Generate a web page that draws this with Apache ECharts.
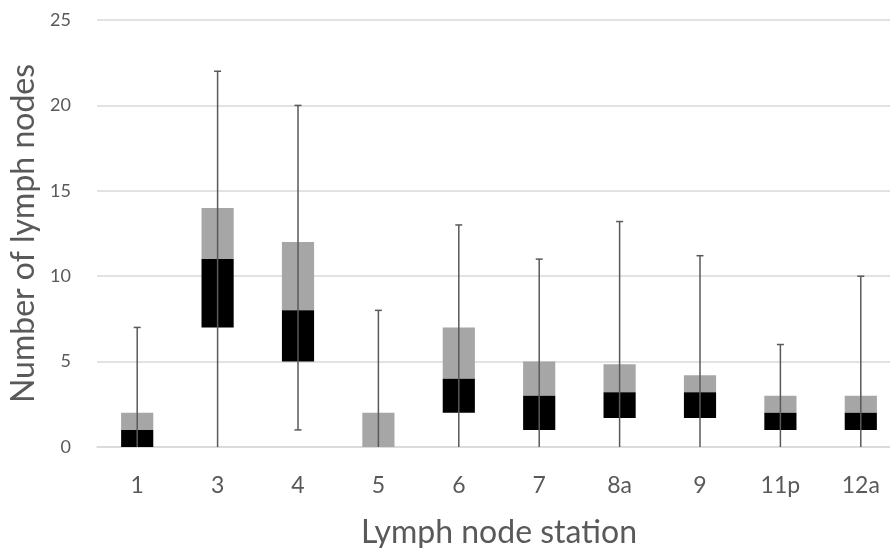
<!DOCTYPE html>
<html>
<head>
<meta charset="utf-8">
<script src="https://cdn.jsdelivr.net/npm/echarts@6/dist/echarts.min.js"></script>
<style>html,body{margin:0;padding:0;background:#fff;}#chart{width:890px;height:548px;}</style>
</head>
<body>
<div id="chart"></div>
<script>
const categories = ['1', '3', '4', '5', '6', '7', '8a', '9', '11p', '12a'];
const minVals    = [0, 0, 1, 0, 0, 0, 0, 0, 0, 0];
const q1Vals     = [0, 7, 5, 0, 2, 1, 1.7, 1.7, 1, 1];
const medianVals = [1, 11, 8, 0, 4, 3, 3.2, 3.2, 2, 2];
const q3Vals     = [2, 14, 12, 2, 7, 5, 4.85, 4.2, 3, 3];
const maxVals    = [7, 22, 20, 8, 13, 11, 13.2, 11.2, 6, 10];
const yTicks = [0, 5, 10, 15, 20, 25];

const data = categories.map((c, i) => [i, minVals[i], q1Vals[i], medianVals[i], q3Vals[i], maxVals[i]]);

const chart = echarts.init(document.getElementById('chart'));
const FONT = 'Lato';
chart.setOption({
  animation: false,
  backgroundColor: '#ffffff',
  grid: { left: 97, right: -11, top: 20, bottom: 101, containLabel: false, outerBoundsMode: 'none' },
  xAxis: {
    type: 'category',
    data: categories,
    name: 'Lymph node station',
    nameLocation: 'middle',
    nameGap: 70,
    nameTextStyle: { fontFamily: FONT, fontSize: 32, color: '#595959' },
    axisLine: { lineStyle: { color: '#D9D9D9', width: 1.5 } },
    axisTick: { show: false },
    axisLabel: { fontFamily: FONT, fontSize: 23, color: '#595959', margin: 27 },
    splitLine: { show: false }
  },
  yAxis: {
    type: 'value',
    min: yTicks[0],
    max: yTicks[yTicks.length - 1],
    interval: 5,
    name: 'Number of lymph nodes',
    nameLocation: 'middle',
    nameGap: 50,
    nameTextStyle: { fontFamily: FONT, fontSize: 32, color: '#595959' },
    axisLine: { show: false },
    axisTick: { show: false },
    axisLabel: { fontFamily: FONT, fontSize: 18, color: '#595959', margin: 26 },
    splitLine: { lineStyle: { color: '#D9D9D9', width: 1.5 } }
  },
  series: [{
    type: 'custom',
    data: data,
    encode: { x: 0, y: [1, 2, 3, 4, 5] },
    renderItem: function (params, api) {
      const x = api.value(0);
      const pMin = api.coord([x, api.value(1)]);
      const pQ1 = api.coord([x, api.value(2)]);
      const pMed = api.coord([x, api.value(3)]);
      const pQ3 = api.coord([x, api.value(4)]);
      const pMax = api.coord([x, api.value(5)]);
      const w = api.size([1, 0])[0] * 0.4;
      const cx = pMed[0];
      const children = [];
      if (pMed[1] - pQ3[1] > 0) {
        children.push({ type: 'rect', shape: { x: cx - w / 2, y: pQ3[1], width: w, height: pMed[1] - pQ3[1] }, style: { fill: '#A6A6A6' } });
      }
      if (pQ1[1] - pMed[1] > 0) {
        children.push({ type: 'rect', shape: { x: cx - w / 2, y: pMed[1], width: w, height: pQ1[1] - pMed[1] }, style: { fill: '#000000' } });
      }
      const ls = { stroke: '#595959', lineWidth: 1.5 };
      children.push({ type: 'line', shape: { x1: cx, y1: pMin[1], x2: cx, y2: pMax[1] }, style: ls });
      children.push({ type: 'line', shape: { x1: cx - 3.5, y1: pMax[1], x2: cx + 3.5, y2: pMax[1] }, style: ls });
      if (api.value(1) > 0) {
        children.push({ type: 'line', shape: { x1: cx - 3.5, y1: pMin[1], x2: cx + 3.5, y2: pMin[1] }, style: ls });
      }
      return { type: 'group', children: children };
    }
  }]
});
</script>
</body>
</html>
